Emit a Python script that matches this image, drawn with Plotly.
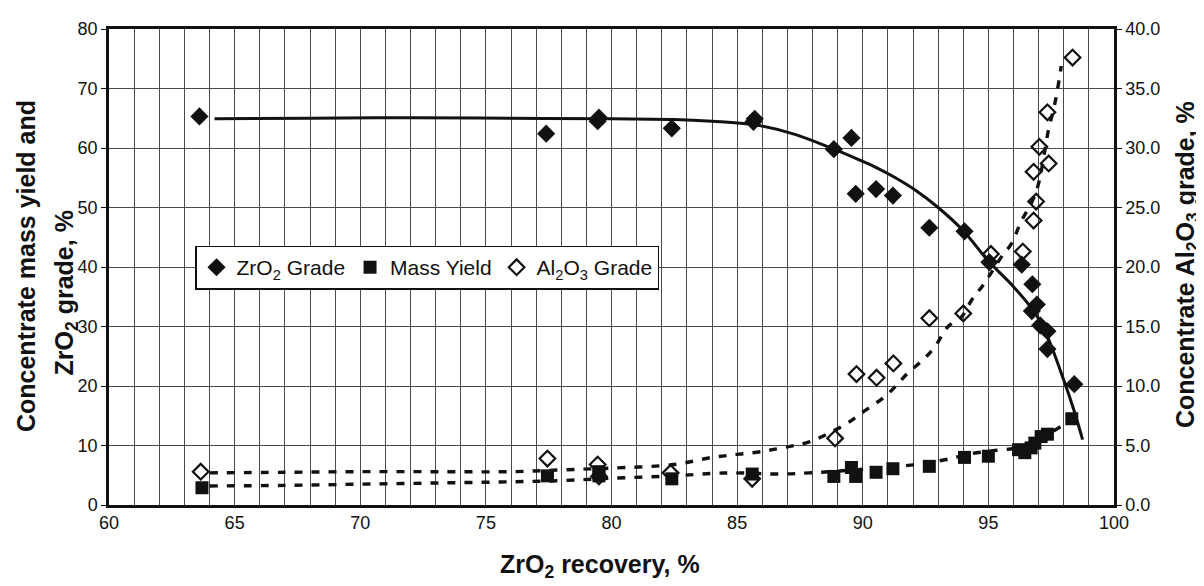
import plotly.graph_objects as go

# ---------------- data ----------------
zro2_grade_x = [63.6, 77.4, 79.45, 79.5, 82.4, 85.65, 85.7, 88.85, 89.55, 89.72,
                90.53, 91.2, 92.65, 94.05, 95.04, 96.33, 96.75, 96.93, 96.73,
                97.06, 97.35, 97.35, 98.42]
zro2_grade_y = [65.3, 62.4, 64.5, 65.1, 63.3, 64.4, 64.9, 59.8, 61.7, 52.3,
                53.1, 52.0, 46.6, 46.0, 40.8, 40.4, 37.1, 33.7, 32.6,
                30.2, 29.2, 26.2, 20.3]

mass_yield_x = [63.7, 77.45, 79.5, 79.5, 82.4, 85.6, 88.85, 89.55, 89.72, 90.53,
                91.2, 92.65, 94.05, 95.0, 96.2, 96.45, 96.7, 96.85, 97.1, 97.35, 98.32]
mass_yield_y = [2.9, 4.9, 5.6, 4.9, 4.4, 5.2, 4.8, 6.3, 4.8, 5.5,
                6.1, 6.5, 8.0, 8.2, 9.3, 8.8, 9.6, 10.4, 11.5, 11.9, 14.5]

al2o3_x = [63.65, 77.45, 79.45, 79.5, 82.35, 85.6, 88.9, 89.75, 90.55, 91.22,
           92.65, 94.0, 95.1, 96.37, 96.8, 96.9, 96.8, 97.03, 97.4, 97.35, 98.35]
al2o3_y = [2.8, 3.9, 3.4, 2.4, 2.7, 2.2, 5.6, 11.0, 10.7, 11.9,
           15.7, 16.1, 21.1, 21.3, 23.9, 25.5, 28.0, 30.1, 28.7, 33.0, 37.6]

# trend lines
zro2_fit_x = [64.2, 68, 72, 76, 80, 82.5, 84, 85.7, 87.3, 88.85, 89.7, 90.5, 91.3,
              92.1, 93.0, 94.0, 95.0, 96.0, 96.8, 97.3, 98.0, 98.4, 98.75]
zro2_fit_y = [64.9, 65.0, 65.1, 65.0, 64.9, 64.8, 64.5, 63.9, 62.3, 59.8, 58.3, 56.8, 55.0,
              52.9, 50.0, 46.1, 41.0, 36.7, 32.6, 28.8, 21.0, 16.0, 11.0]

mass_fit_x = [64, 67, 70, 73, 76, 78, 80, 82.5, 84, 85, 86.67, 87.87, 90, 92.0,
              93.27, 94.27, 95.15, 96, 96.5, 97, 97.5, 98, 98.35]
mass_fit_y = [3.2, 3.3, 3.5, 3.7, 3.9, 4.1, 4.5, 4.9, 5.3, 5.4, 5.2, 5.4, 6.0, 6.75,
              7.6, 8.6, 9.1, 9.5, 10.0, 11.0, 12.2, 13.5, 14.5]

al2o3_fit_x = [64, 67, 70, 73, 76, 78, 80, 82.5, 84, 85, 86, 86.67, 87.87, 88.53,
               89.33, 90.07, 90.93, 91.4, 91.8, 92.4, 92.87, 93.4, 93.93, 94.33,
               94.83, 95.6, 95.9, 96.3, 96.9, 97.4, 97.6, 97.75, 97.9]
al2o3_fit_y = [2.7, 2.75, 2.8, 2.8, 2.8, 2.95, 3.1, 3.4, 4.0, 4.25, 4.5, 4.76, 5.3, 5.9,
               6.8, 7.9, 9.2, 10.2, 11.1, 12.2, 13.3, 15.0, 15.8, 17.2,
               18.6, 21.1, 21.9, 23.8, 26.3, 31.6, 33.3, 34.9, 36.9]

x_ticks = [60, 65, 70, 75, 80, 85, 90, 95, 100]
y_left_ticks = [0, 10, 20, 30, 40, 50, 60, 70, 80]
y_right_ticks = [0, 5, 10, 15, 20, 25, 30, 35, 40]

# ---------------- figure ----------------
FONT = "Liberation Sans, Arial, sans-serif"
INK = "#111111"
GRID = "#4a4a4a"

fig = go.Figure()

fig.add_trace(go.Scatter(x=al2o3_fit_x, y=al2o3_fit_y, yaxis="y2", mode="lines",
                         line=dict(color=INK, width=3.4, dash="8px,9px", shape="spline"),
                         showlegend=False, hoverinfo="skip"))
fig.add_trace(go.Scatter(x=mass_fit_x, y=mass_fit_y, mode="lines",
                         line=dict(color=INK, width=3.4, dash="8px,9px", shape="spline"),
                         showlegend=False, hoverinfo="skip"))
fig.add_trace(go.Scatter(x=zro2_fit_x, y=zro2_fit_y, mode="lines",
                         line=dict(color=INK, width=3, shape="spline"),
                         showlegend=False, hoverinfo="skip"))

fig.add_trace(go.Scatter(x=zro2_grade_x, y=zro2_grade_y, mode="markers",
                         name="ZrO<sub>2</sub> Grade",
                         marker=dict(symbol="diamond", size=14, color=INK)))
fig.add_trace(go.Scatter(x=mass_yield_x, y=mass_yield_y, mode="markers",
                         name="Mass Yield",
                         marker=dict(symbol="square", size=13, color=INK)))
fig.add_trace(go.Scatter(x=al2o3_x, y=al2o3_y, mode="markers", yaxis="y2",
                         name="Al<sub>2</sub>O<sub>3</sub> Grade",
                         marker=dict(symbol="diamond-open", size=12, color=INK,
                                     line=dict(width=2.2, color=INK))))

# the page body has an 8 px default margin, so the figure is 8 px smaller
fig.update_layout(
    width=1196, height=578,
    margin=dict(l=101, r=90, t=11, b=81),
    paper_bgcolor="white", plot_bgcolor="white",
    font=dict(family=FONT, size=18, color=INK),
    xaxis=dict(range=[60, 100], tickvals=x_ticks, showgrid=True, gridcolor=GRID,
               gridwidth=1, minor=dict(dtick=1, showgrid=True, gridcolor=GRID, gridwidth=1),
               showline=True, linecolor=INK, linewidth=2.5, mirror=True,
               ticks="", tickfont=dict(size=18, color=INK), zeroline=False),
    yaxis=dict(range=[0, 80], tickvals=y_left_ticks, showgrid=True, gridcolor=GRID,
               gridwidth=1, showline=True, linecolor=INK, linewidth=2.5,
               ticks="outside", ticklen=5, tickcolor=INK, tickwidth=1,
               tickfont=dict(size=18, color=INK), zeroline=False),
    yaxis2=dict(range=[0, 40], tickvals=y_right_ticks, tickformat=".1f",
                overlaying="y", side="right", showgrid=False,
                showline=True, linecolor=INK, linewidth=2.5,
                ticks="outside", ticklen=5, tickcolor=INK, tickwidth=1,
                tickfont=dict(size=18, color=INK), zeroline=False),
    legend=dict(x=0.0856, y=0.545, xanchor="left", yanchor="top",
                orientation="h", bgcolor="white", bordercolor=INK, borderwidth=1.5,
                font=dict(family=FONT, size=21, color=INK), itemwidth=30,
                tracegroupgap=0),
    showlegend=True,
)

title_font = dict(family=FONT, size=25, color=INK)
fig.add_annotation(text="<b>Concentrate mass yield and</b>", xref="paper", yref="paper",
                   x=-0.0826, y=0.502, textangle=-90, showarrow=False,
                   font=title_font, xanchor="center", yanchor="middle")
fig.add_annotation(text="<b>ZrO<sub>2</sub> grade, %</b>", xref="paper", yref="paper",
                   x=-0.0428, y=0.4465, textangle=-90, showarrow=False,
                   font=title_font, xanchor="center", yanchor="middle")
fig.add_annotation(text="<b>Concentrate Al<sub>2</sub>O<sub>3</sub> grade, %</b>",
                   xref="paper", yref="paper", x=1.0726, y=0.506, textangle=-90,
                   showarrow=False, font=title_font, xanchor="center", yanchor="middle")
fig.add_annotation(text="<b>ZrO<sub>2</sub> recovery, %</b>", xref="paper", yref="paper",
                   x=0.4886, y=-0.1276, showarrow=False, font=title_font,
                   xanchor="center", yanchor="middle")

fig.write_html("out.html")
